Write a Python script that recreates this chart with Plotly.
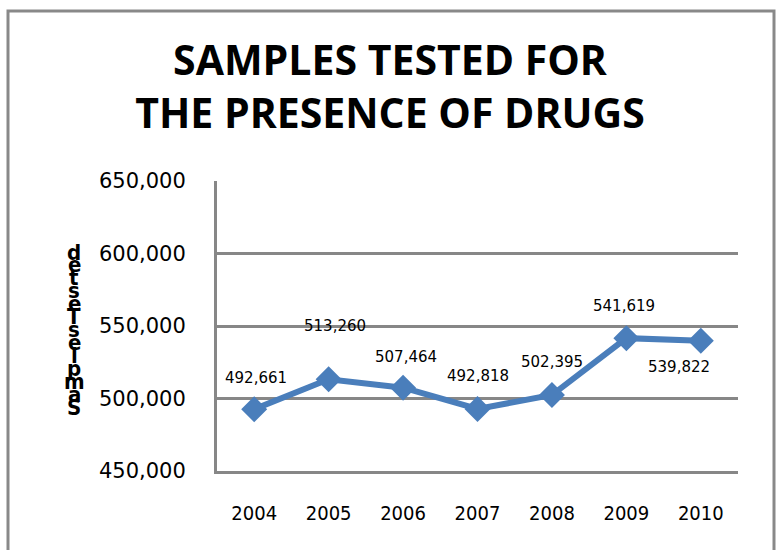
import plotly.graph_objects as go

years = ["2004", "2005", "2006", "2007", "2008", "2009", "2010"]
samples = [492661, 513260, 507464, 492818, 502395, 541619, 539822]
label_text = ["492,661", "513,260", "507,464", "492,818", "502,395", "541,619", "539,822"]
# label offsets (pixels) relative to each point
label_dx = [2, 6, 3, 0, 0, -2, -22]
label_dy = [-31, -53, -31, -33, -33, -32, 26]
y_title = "Samples Tested"

W, H = 777, 550
L, R, T, B = 217, 39, 181, 79
pw, ph = W - L - R, H - T - B

def px(x):
    return (x - L) / pw

def py(y):
    return (H - B - y) / ph

blue = "#4A7EBB"
grey = "#878787"

fig = go.Figure()
fig.add_trace(go.Scatter(
    x=years, y=samples, mode="lines+markers",
    line=dict(color=blue, width=6),
    marker=dict(symbol="diamond", size=20, color=blue),
    showlegend=False, hoverinfo="skip"))

annotations = []
for i, (y, t, dx, dy) in enumerate(zip(samples, label_text, label_dx, label_dy)):
    annotations.append(dict(x=i, y=y, xref="x", yref="y", text=t, showarrow=True,
                            arrowcolor="rgba(0,0,0,0)", ax=dx, ay=dy,
                            font=dict(family="DejaVu Sans", size=15, color="#000")))

# stacked vertical axis title (letters stacked, read bottom to top)
letters = [c for c in y_title if c != " "][::-1]
top_c, bot_c = 252, 407
step = (bot_c - top_c) / (len(letters) - 1)
for i, c in enumerate(letters):
    annotations.append(dict(x=px(74), y=py(top_c + i * step), xref="paper", yref="paper",
                            text=c, showarrow=False, xanchor="center", yanchor="middle",
                            font=dict(family="DejaVu Sans Condensed", size=22, color="#000", weight="bold")))

fig.update_layout(
    width=W, height=H,
    margin=dict(l=L, r=R, t=T, b=B, pad=0),
    paper_bgcolor="white", plot_bgcolor="white",
    title=dict(text="SAMPLES TESTED FOR<br>THE PRESENCE OF DRUGS",
               x=390 / W, xanchor="center", xref="container",
               y=1 - 75 / H, yanchor="top", yref="container",
               font=dict(family="Open Sans", size=41, color="#000", weight="bold")),
    xaxis=dict(type="category", range=[-0.5, 6.5], showgrid=False, showline=True,
               linecolor=grey, linewidth=3, ticks="", ticklabelstandoff=22,
               tickfont=dict(family="DejaVu Sans Condensed", size=20, color="#000"), fixedrange=True),
    yaxis=dict(range=[450000, 650000], dtick=50000, tickformat=",", showgrid=True,
               gridcolor=grey, gridwidth=3, showline=True, linecolor=grey, linewidth=3,
               zeroline=False, ticks="", ticklabelstandoff=24,
               tickfont=dict(family="DejaVu Sans", size=21, color="#000"), fixedrange=True),
    annotations=annotations,
    shapes=[dict(type="rect", xref="paper", yref="paper",
                 x0=px(8), x1=px(774), y0=py(570), y1=py(11),
                 line=dict(color="#898989", width=3), layer="below")],
)
fig.write_html("out.html")
